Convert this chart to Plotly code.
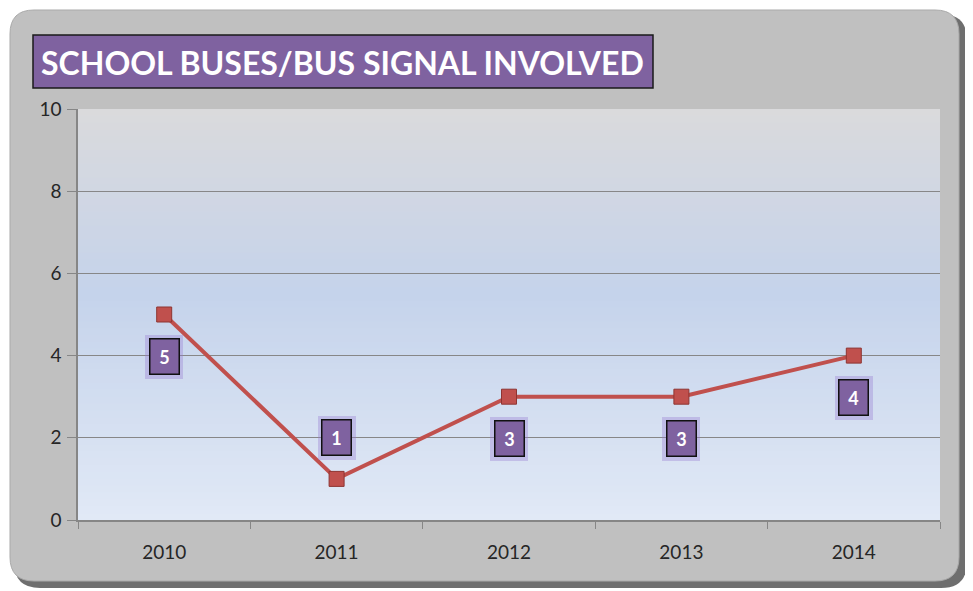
import plotly.graph_objects as go

years = ["2010", "2011", "2012", "2013", "2014"]
counts = [5, 1, 3, 3, 4]
label_side = ["below", "above", "below", "below", "below"]
y_ticks = [0, 2, 4, 6, 8, 10]
title_text = "SCHOOL BUSES/BUS SIGNAL INVOLVED"

OFF = 8  # page body margin
W, H = 965, 583
L, R, T, B = 70, 33, 101, 71
PW, PH = W - L - R, H - T - B

def fx(px):
    return (px - OFF - L) / PW

def fy(py):
    return (H - B - (py - OFF)) / PH

def rounded_path(x0, y0, x1, y1, r):
    return (f"M {fx(x0+r)},{fy(y0)} L {fx(x1-r)},{fy(y0)} "
            f"Q {fx(x1)},{fy(y0)} {fx(x1)},{fy(y0+r)} "
            f"L {fx(x1)},{fy(y1-r)} Q {fx(x1)},{fy(y1)} {fx(x1-r)},{fy(y1)} "
            f"L {fx(x0+r)},{fy(y1)} Q {fx(x0)},{fy(y1)} {fx(x0)},{fy(y1-r)} "
            f"L {fx(x0)},{fy(y0+r)} Q {fx(x0)},{fy(y0)} {fx(x0+r)},{fy(y0)} Z")

purple = "#7f62a0"
red = "#c0504d"

shapes = []
shapes.append(dict(type="path", xref="paper", yref="paper", layer="below",
                   path=rounded_path(14, 14, 967, 588, 26),
                   fillcolor="#6e6e6e", line=dict(width=0)))
shapes.append(dict(type="path", xref="paper", yref="paper", layer="below",
                   path=rounded_path(10, 10, 959, 581, 24),
                   fillcolor="#c0c0c0", line=dict(color="#a9a9a9", width=1)))

stops = [(0.0, (218, 218, 220)), (0.45, (197, 211, 235)), (1.0, (225, 233, 246))]
def col(t):
    for (t0, c0), (t1, c1) in zip(stops[:-1], stops[1:]):
        if t <= t1:
            u = (t - t0) / (t1 - t0)
            return "rgb(%d,%d,%d)" % tuple(round(a + (b - a) * u) for a, b in zip(c0, c1))
    return "rgb(%d,%d,%d)" % stops[-1][1]
N = 60
for i in range(N):
    t = (i + 0.5) / N
    shapes.append(dict(type="rect", xref="paper", yref="paper", layer="below",
                       x0=0, x1=1, y0=1 - i / N, y1=1 - (i + 1) / N - 0.002,
                       fillcolor=col(t), line=dict(width=0)))

shapes.append(dict(type="rect", xref="paper", yref="paper", layer="above",
                   x0=fx(33), x1=fx(653), y0=fy(35), y1=fy(88),
                   fillcolor=purple, line=dict(color="#1a1a1a", width=1.5)))

annotations = [dict(xref="paper", yref="paper", x=fx(342), y=fy(62),
                    text="<b>" + title_text + "</b>", showarrow=False,
                    font=dict(family="Lato", size=32, color="white"),
                    xanchor="center", yanchor="middle")]

for i, (v, side) in enumerate(zip(counts, label_side)):
    shift = 41 if side == "above" else -42
    # soft glow behind the label
    annotations.append(dict(x=i, y=v, xref="x", yref="y", yshift=shift,
                            text="&nbsp;", showarrow=False,
                            width=38, height=44, borderpad=0, borderwidth=0,
                            bgcolor="rgba(150,120,210,0.35)",
                            font=dict(size=10)))
    annotations.append(dict(x=i, y=v, xref="x", yref="y", yshift=shift,
                            text="<b>%d</b>" % v, showarrow=False,
                            width=24, height=30, borderpad=2,
                            bgcolor=purple, bordercolor="#111111", borderwidth=1.5,
                            font=dict(family="Lato", size=18, color="white")))

fig = go.Figure()
fig.add_trace(go.Scatter(x=years, y=counts, mode="lines+markers",
                         line=dict(color=red, width=4),
                         marker=dict(symbol="square", size=15, color=red,
                                     line=dict(color="#8e3532", width=1)),
                         cliponaxis=False, showlegend=False))

fig.update_layout(
    width=W, height=H,
    margin=dict(l=L, r=R, t=T, b=B),
    paper_bgcolor="white",
    plot_bgcolor="rgba(0,0,0,0)",
    shapes=shapes,
    annotations=annotations,
    xaxis=dict(type="category", range=[-0.5, 4.5], showgrid=False,
               showline=True, linecolor="#868686", linewidth=1.5,
               ticks="outside", tickson="boundaries", ticklen=7,
               tickcolor="#868686", ticklabelstandoff=14,
               tickfont=dict(family="Lato", size=19, color="#262626")),
    yaxis=dict(range=[0, 10], tickvals=y_ticks, showgrid=True,
               gridcolor="#878787", gridwidth=1, zeroline=False,
               showline=True, linecolor="#868686", linewidth=1.5,
               ticks="outside", ticklen=9, tickcolor="#868686",
               ticklabelstandoff=2,
               tickfont=dict(family="Lato", size=19, color="#262626")),
)

fig.write_html("out.html")
